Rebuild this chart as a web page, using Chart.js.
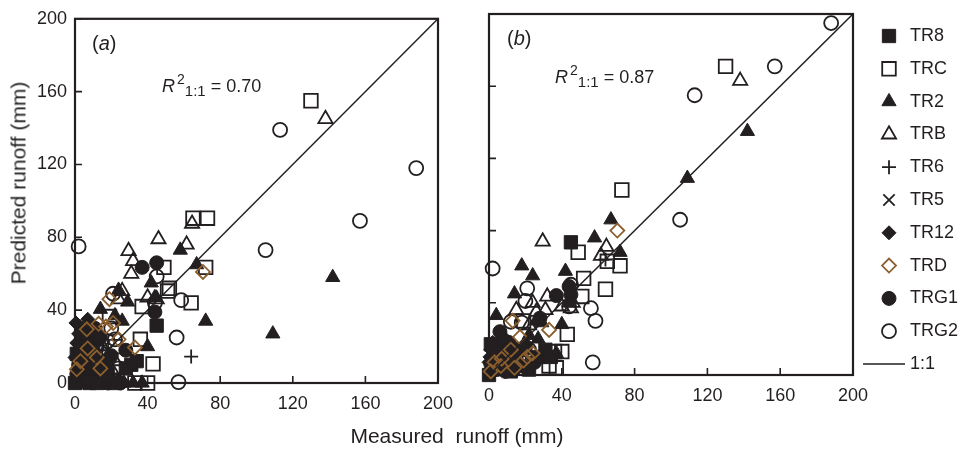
<!DOCTYPE html>
<html>
<head>
<meta charset="utf-8">
<script src="https://cdn.jsdelivr.net/npm/chart.js@4.4.0/dist/chart.umd.min.js"></script>
<style>
  body { margin: 0; background: #fff; font-family: "Liberation Sans", Arial, sans-serif; color: #231f20; }
  #wrap { position: relative; width: 961px; height: 449px; overflow: hidden; }
  canvas { position: absolute; top: 0; }
  #chartA { left: 0; }
  #chartB { left: 440px; }
  .txt { position: absolute; white-space: pre; color: #231f20; }
  .title { font-size: 21px; line-height: 21px; transform: translate(-50%, -50%); }
  .panel { font-size: 20px; line-height: 20px; }
  .r2 { font-size: 18px; line-height: 18px; }
  .r2 .sup { position: relative; top: -8px; font-size: 14px; margin-left: 2px; }
  .r2 .sub { position: relative; top: 4px; font-size: 15px; }
</style>
</head>
<body>
<div id="wrap">
  <canvas id="chartA" width="470" height="449"></canvas>
  <canvas id="chartB" width="521" height="449"></canvas>
  <div class="txt title" style="left:18px; top:183px; transform: translate(-50%, -50%) rotate(-90deg);">Predicted runoff (mm)</div>
  <div class="txt title" style="left:457px; top:435px;">Measured  runoff (mm)</div>
  <div class="txt panel" style="left:92px; top:33px;">(<i>a</i>)</div>
  <div class="txt panel" style="left:507px; top:28px;">(<i>b</i>)</div>
  <div class="txt r2" style="left:162px; top:77px;"><i>R</i><span class="sup">2</span><span class="sub">1:1</span> = 0.70</div>
  <div class="txt r2" style="left:555px; top:68px;"><i>R</i><span class="sup">2</span><span class="sub">1:1</span> = 0.87</div>
</div>
<script>
// measured runoff (mm) per plot, predicted by the model in panel (a) and panel (b)
const tr8Meas  = [45, 31, 1, 2, 8, 15, 5, 28, 34, 0, 12, 3, 10, 22, 18];
const tr8PredA = [31.5, 10, 16, 3, 0, 5, 10, 8, 12, 0, 0, 20, 18, 0, 4];
const tr8PredB = [73.5, 14, 17, 3, 4, 8, 12, 10, 10, 0, 2, 6, 10, 3, 14];

const trcMeas  = [130, 73, 65, 72, 49, 52, 51, 64, 37, 36, 43, 19, 33, 40, 22];
const trcPredA = [155, 90.5, 90.5, 63.5, 63.5, 52, 50.5, 44, 42, 24, 10.5, 36.5, 0, 0, 20];
const trcPredB = [171, 102.5, 63, 60.5, 68, 53.5, 43.5, 47.5, 4, 13, 22.5, 30, 5, 13, 8];

const tr2Meas  = [142, 109, 72, 58, 67, 40, 14, 29, 24, 42, 44, 21, 27, 32, 18, 4, 37, 22, 26, 8, 12];
const tr2PredA = [58, 27, 34, 73, 65, 20, 40.5, 44.5, 51, 55, 47, 0, 0, 0, 10, 28, 0, 37, 34, 0, 25];
const tr2PredB = [135, 109, 68, 76, 86, 28, 45, 29, 55, 57.5, 40, 14, 20, 12, 60.5, 33, 12, 22, 30, 20, 9];

const trbMeas  = [138, 64.5, 46, 61.5, 29.5, 32, 31, 26, 40, 45, 20, 24, 15, 22];
const trbPredA = [145, 87.5, 79, 76, 72.5, 67, 60, 50.5, 47, 46, 7.5, 46, 20, 12];
const trbPredB = [163, 71, 40, 66, 74, 43.5, 36, 35, 38, 37, 15, 40, 36, 27.5];

const tr6Meas  = [64, 15, 8];
const tr6PredA = [14.5, 18, 5];
const tr6PredB = [64, 12, 6];

const tr5Meas  = [16, 22, 5];
const tr5PredA = [20, 3, 10];
const tr5PredB = [14, 8, 6];

const tr12Meas  = [0.5, 7, 4, 1, 5, 10, 2, 14, 20, 3, 9, 0, 12, 6, 16, 8, 2];
const tr12PredA = [33, 35, 30, 22, 18, 12, 8, 5, 2, 0, 26, 14, 22, 6, 0, 28, 27];
const tr12PredB = [10, 18, 12, 14, 5, 8, 3, 6, 15, 2, 20, 7, 11, 10, 4, 13, 18];

const trdMeas  = [70.5, 33, 19, 21, 13, 6.5, 17, 24, 7, 12, 14, 1, 3];
const trdPredA = [61, 19.5, 46, 33, 32.5, 29.5, 31, 24, 19, 14, 8, 7.5, 12];
const trdPredB = [80, 25, 8, 10, 30, 5, 21, 12, 9, 14, 4, 2, 7];

const trg1Meas  = [37, 45, 44, 28, 6, 3, 10, 15, 1, 8, 20, 12, 4, 18, 25, 2, 6, 9, 14, 5, 11];
const trg1PredA = [63.5, 66, 39, 18, 27, 2, 8, 12, 5, 20, 15, 3, 12, 0, 0, 10, 4, 16, 25, 22, 30];
const trg1PredB = [44, 44.5, 49, 31.5, 24, 3, 9, 14, 6, 19, 16, 4, 11, 5, 7, 8, 12, 2, 9, 15, 18];

const trg2Meas  = [2, 113, 188, 157, 105, 57, 56, 58.5, 45, 21, 20, 44, 18, 12, 10, 22, 24];
const trg2PredA = [75, 139, 118, 89, 73, 0.5, 25, 45.5, 58.5, 49, 30, 44, 23, 20, 13, 24, 8];
const trg2PredB = [59, 155, 195, 171, 86, 7, 37, 30, 50, 48, 41, 38, 29, 29.5, 10, 14, 9];

const oneToOne = [0, 200];
const axisTicks = [0, 40, 80, 120, 160, 200];

const ink = '#231f20';
const brown = '#8b5e2e';

Chart.defaults.font.family = '"Liberation Sans", Arial, sans-serif';
Chart.defaults.font.size = 18;
Chart.defaults.color = ink;

const series = [
  { label: 'TR8',  meas: tr8Meas,  a: tr8PredA,  b: tr8PredB,  style: 'rect',     r: 9.4, filled: true },
  { label: 'TRC',  meas: trcMeas,  a: trcPredA,  b: trcPredB,  style: 'rect',     r: 9.6 },
  { label: 'TR2',  meas: tr2Meas,  a: tr2PredA,  b: tr2PredB,  style: 'triangle', r: 8.2, filled: true },
  { label: 'TRB',  meas: trbMeas,  a: trbPredA,  b: trbPredB,  style: 'triangle', r: 8.2 },
  { label: 'TR6',  meas: tr6Meas,  a: tr6PredA,  b: tr6PredB,  style: 'cross',    r: 7 },
  { label: 'TR5',  meas: tr5Meas,  a: tr5PredA,  b: tr5PredB,  style: 'crossRot', r: 8 },
  { label: 'TR12', meas: tr12Meas, a: tr12PredA, b: tr12PredB, style: 'rectRot',  r: 7, filled: true },
  { label: 'TRD',  meas: trdMeas,  a: trdPredA,  b: trdPredB,  style: 'rectRot',  r: 7, color: brown, top: true },
  { label: 'TRG1', meas: trg1Meas, a: trg1PredA, b: trg1PredB, style: 'circle',   r: 7, filled: true },
  { label: 'TRG2', meas: trg2Meas, a: trg2PredA, b: trg2PredB, style: 'circle',   r: 7 }
];

function makeSets(panel) {
  const sets = series.map(s => ({
    label: s.label,
    data: s.meas.map((m, i) => ({ x: m, y: s[panel][i] })),
    pointStyle: s.style,
    pointRadius: s.r,
    pointBorderWidth: s.filled ? 1 : 1.8,
    pointBorderColor: s.color || ink,
    pointBackgroundColor: s.filled ? ink : 'rgba(255,255,255,0)',
    order: s.top ? 1 : 2,
    clip: false
  }));
  sets.push({
    label: '1:1',
    data: oneToOne.map(v => ({ x: v, y: v })),
    showLine: true,
    borderColor: ink,
    borderWidth: 1.5,
    pointRadius: 0,
    order: 0
  });
  return sets;
}

// frame round the plot area and short inward tick marks
const framePlugin = {
  id: 'frame',
  beforeDatasetsDraw(chart) {
    const { ctx, chartArea: ca, scales } = chart;
    ctx.save();
    ctx.strokeStyle = ink;
    ctx.lineWidth = 2.2;
    ctx.strokeRect(ca.left, ca.top, ca.right - ca.left, ca.bottom - ca.top);
    ctx.lineWidth = 1.6;
    ctx.beginPath();
    axisTicks.forEach(v => {
      const px = scales.x.getPixelForValue(v);
      ctx.moveTo(px, ca.bottom);
      ctx.lineTo(px, ca.bottom - 7);
      const py = scales.y.getPixelForValue(v);
      ctx.moveTo(ca.left, py);
      ctx.lineTo(ca.left + 7, py);
    });
    ctx.stroke();
    ctx.restore();
  }
};

const sideLegend = {
  id: 'sideLegend',
  afterDraw(chart) {
    const { ctx, chartArea: ca } = chart;
    const mx = ca.right + 36, tx = ca.right + 57;
    ctx.save();
    ctx.font = '18px "Liberation Sans", Arial, sans-serif';
    ctx.textBaseline = 'middle';
    series.forEach((s, i) => {
      const y = 36 + i * 32.8;
      ctx.fillStyle = s.filled ? ink : 'rgba(255,255,255,0)';
      ctx.strokeStyle = s.color || ink;
      ctx.lineWidth = s.filled ? 1 : 1.8;
      Chart.helpers.drawPoint(ctx, { pointStyle: s.style, radius: s.r, rotation: 0, borderWidth: ctx.lineWidth }, mx, y);
      ctx.fillStyle = ink;
      ctx.fillText(s.label, tx, y);
    });
    const ly = 36 + series.length * 32.8;
    ctx.strokeStyle = ink;
    ctx.lineWidth = 1.5;
    ctx.beginPath();
    ctx.moveTo(ca.right + 10, ly);
    ctx.lineTo(ca.right + 52, ly);
    ctx.stroke();
    ctx.fillStyle = ink;
    ctx.fillText('1:1', tx, ly);
    ctx.restore();
  }
};

function axisOpts(showLabels, pad, fitFn) {
  return {
    type: 'linear', min: 0, max: 200,
    afterBuildTicks: scale => { scale.ticks = axisTicks.map(v => ({ value: v })); },
    ticks: { display: showLabels, padding: pad, color: ink, font: { size: 18 } },
    grid: { display: false, drawTicks: false },
    border: { display: false },
    afterFit: fitFn
  };
}

function makeChart(id, panel, padding, yWidth, showY, extra) {
  return new Chart(document.getElementById(id), {
    type: 'scatter',
    data: { datasets: makeSets(panel) },
    options: {
      responsive: false,
      animation: false,
      events: [],
      layout: { padding },
      plugins: { legend: { display: false }, tooltip: { enabled: false } },
      scales: {
        x: axisOpts(true, 10, s => { s.height = 40; }),
        y: axisOpts(showY, 8, s => { s.width = yWidth; })
      }
    },
    plugins: [framePlugin].concat(extra)
  });
}

makeChart('chartA', 'a', { left: 0, top: 14, right: 32, bottom: 26 }, 75, true, []);
makeChart('chartB', 'b', { left: 0, top: 14, right: 108, bottom: 34 }, 49, false, [sideLegend]);
</script>
</body>
</html>
